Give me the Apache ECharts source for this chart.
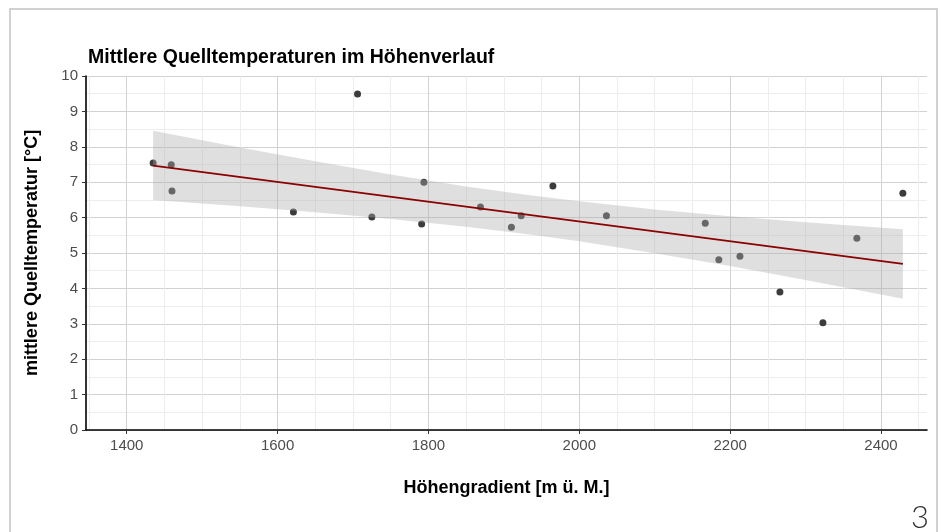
<!DOCTYPE html>
<html>
<head>
<meta charset="utf-8">
<title>Mittlere Quelltemperaturen im Höhenverlauf</title>
<script src="https://cdn.jsdelivr.net/npm/echarts@6/dist/echarts.min.js"></script>
<style>
  html, body { margin: 0; padding: 0; background: #fff; }
  #chart { width: 941px; height: 532px; }
</style>
</head>
<body>
<div id="chart"></div>
<script>
  // Messpunkte: Höhe [m ü. M.] / mittlere Quelltemperatur [°C]
  var hoehe = [1435, 1459, 1460, 1621, 1706, 1725, 1791, 1794, 1869, 1910, 1923, 1965, 2036, 2167, 2185, 2213, 2266, 2323, 2368, 2429];
  var temp = [7.54, 7.49, 6.75, 6.16, 9.49, 6.02, 5.82, 7.00, 6.30, 5.73, 6.05, 6.89, 6.05, 5.84, 4.81, 4.91, 3.90, 3.03, 5.42, 6.69];

  // lineare Regression
  var fitX = [1435, 2429];
  var fitY = [7.47, 4.69];

  // Konfidenzband
  var bandX = [1435, 1550, 1650, 1750, 1850, 1932, 2000, 2100, 2200, 2300, 2429];
  var bandLo = [6.50, 6.32, 6.15, 5.96, 5.74, 5.53, 5.33, 4.99, 4.63, 4.24, 3.71];
  var bandHi = [8.45, 7.98, 7.59, 7.22, 6.88, 6.64, 6.46, 6.23, 6.04, 5.87, 5.67];

  var xTicks = [1400, 1600, 1800, 2000, 2200, 2400];

  var font = 'Liberation Sans, Arial, sans-serif';

  var punkte = [];
  for (var i = 0; i < hoehe.length; i++) {
    punkte.push([hoehe[i], temp[i]]);
  }
  var fit = [];
  for (var j = 0; j < fitX.length; j++) {
    fit.push([fitX[j], fitY[j]]);
  }
  var band = [];
  for (var k = 0; k < bandX.length; k++) {
    band.push([bandX[k], bandLo[k], bandHi[k]]);
  }

  var myChart = echarts.init(document.getElementById('chart'));
  myChart.setOption({
    animation: false,
    textStyle: { fontFamily: font },
    title: {
      text: 'Mittlere Quelltemperaturen im Höhenverlauf',
      left: 88,
      top: 48,
      padding: 0,
      textStyle: { fontSize: 19.5, fontWeight: 'bold', color: '#000', fontFamily: font }
    },
    grid: { left: 86, right: 14, top: 76, bottom: 102 },
    xAxis: {
      type: 'value',
      min: 1346,
      max: 2461,
      splitNumber: 5,
      name: 'Höhengradient [m ü. M.]',
      nameLocation: 'middle',
      nameGap: 49,
      nameTextStyle: { fontSize: 18, fontWeight: 'bold', color: '#000', fontFamily: font },
      axisLine: { show: true, lineStyle: { color: '#000', width: 1.6 } },
      axisTick: { show: true, customValues: xTicks, length: 4, lineStyle: { color: '#333' } },
      axisLabel: {
        customValues: xTicks,
        color: '#4d4d4d',
        fontSize: 15,
        margin: 8,
        fontFamily: font,
        formatter: function (v) { return String(v); }
      },
      splitLine: { show: true, lineStyle: { color: '#d2d2d2', width: 1 } },
      minorTick: { show: false, splitNumber: 4 },
      minorSplitLine: { show: true, lineStyle: { color: '#ededed', width: 1 } }
    },
    yAxis: {
      type: 'value',
      min: 0,
      max: 10,
      interval: 1,
      name: 'mittlere Quelltemperatur [°C]',
      nameLocation: 'middle',
      nameRotate: 90,
      nameGap: 45,
      nameTextStyle: { fontSize: 18, fontWeight: 'bold', color: '#000', fontFamily: font },
      axisLine: { show: true, lineStyle: { color: '#000', width: 1.6 } },
      axisTick: { show: true, length: 4, lineStyle: { color: '#333' } },
      axisLabel: { color: '#4d4d4d', fontSize: 15, margin: 8, fontFamily: font },
      splitLine: { show: true, lineStyle: { color: '#d2d2d2', width: 1 } },
      minorTick: { show: false, splitNumber: 2 },
      minorSplitLine: { show: true, lineStyle: { color: '#ededed', width: 1 } }
    },
    series: [
      {
        type: 'scatter',
        data: punkte,
        symbolSize: 7,
        itemStyle: { color: '#3c3c3c', opacity: 1 },
        z: 2
      },
      {
        type: 'custom',
        data: band,
        encode: { x: 0, y: [1, 2] },
        silent: true,
        z: 3,
        renderItem: function (params, api) {
          if (params.dataIndex !== 0) return;
          var pts = [];
          for (var a = 0; a < bandX.length; a++) pts.push(api.coord([bandX[a], bandHi[a]]));
          for (var b = bandX.length - 1; b >= 0; b--) pts.push(api.coord([bandX[b], bandLo[b]]));
          return {
            type: 'polygon',
            shape: { points: pts },
            style: { fill: 'rgba(173,173,173,0.39)', stroke: null }
          };
        }
      },
      {
        type: 'line',
        data: fit,
        symbol: 'none',
        lineStyle: { color: '#8b0000', width: 1.8 },
        z: 4
      }
    ],
    graphic: [
      {
        type: 'rect',
        shape: { x: 10, y: 9, width: 927, height: 600 },
        style: { fill: 'none', stroke: '#c2c2c2', lineWidth: 1.5 },
        silent: true
      },
      {
        type: 'text',
        left: 911,
        top: 502,
        style: { text: '3', font: '300 31px Lato, sans-serif', fill: '#333' },
        silent: true
      }
    ]
  });
</script>
</body>
</html>
